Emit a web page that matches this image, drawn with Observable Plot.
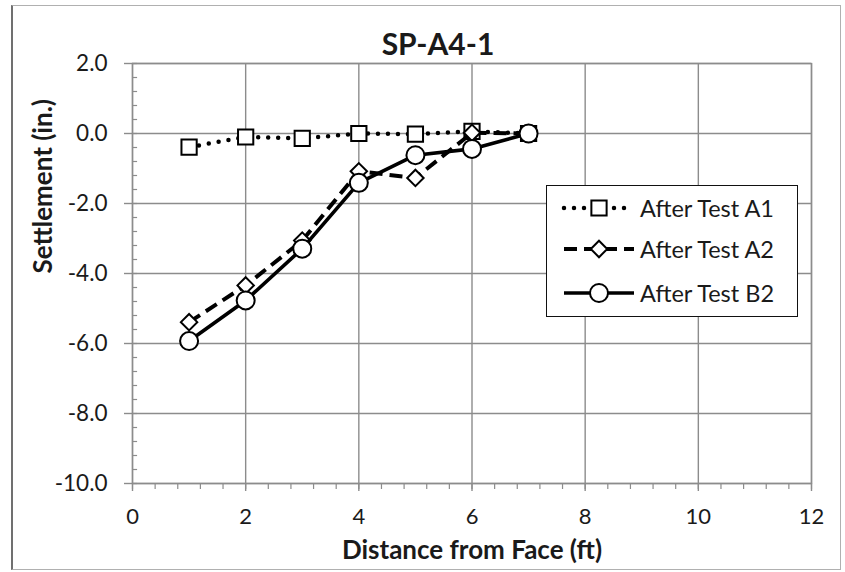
<!DOCTYPE html>
<html><head><meta charset="utf-8">
<script src="https://cdn.jsdelivr.net/npm/d3@7"></script>
<script src="https://cdn.jsdelivr.net/npm/@observablehq/plot@0.6"></script>
<style>
body{margin:0;background:#fff;}
#wrap{position:relative;width:845px;height:572px;overflow:hidden;font-family:Lato,sans-serif;background:#fff;}
#chart{position:absolute;left:0;top:0;}
#border{position:absolute;left:11px;top:5px;width:827px;height:563px;border:1.5px solid #b0b0b0;border-left:2px solid #707070;}
#legend{position:absolute;left:546px;top:185px;width:250px;height:130px;border:1.5px solid #111;background:#fff;}
.row{position:absolute;left:0;height:30px;width:250px;}
.row svg{position:absolute;left:14px;top:0;}
.row span{position:absolute;left:93px;top:0px;line-height:30px;font-size:23.5px;color:#1a1a1a;white-space:nowrap;}
</style></head><body>
<div id="wrap"><div id="border"></div><div id="chart"></div><div id="legend"></div></div>
<script>
const titleText = "SP-A4-1";
const xLabel = "Distance from Face (ft)";
const yLabel = "Settlement (in.)";
const seriesNames = ["After Test A1", "After Test A2", "After Test B2"];
const distance = [1, 2, 3, 4, 5, 6, 7];
const afterA1 = [-0.39, -0.10, -0.14, 0.00, -0.02, 0.06, 0.00];
const afterA2 = [-5.39, -4.34, -3.06, -1.08, -1.27, 0.02, 0.00];
const afterB2 = [-5.93, -4.77, -3.29, -1.41, -0.62, -0.44, 0.00];
const xTicks = [0, 2, 4, 6, 8, 10, 12];
const yTicks = [2, 0, -2, -4, -6, -8, -10];
const xMinor = d3.range(0, 12.001, 0.4);
const yMinor = d3.range(-10, 2.001, 0.4);

const values = [afterA1, afterA2, afterB2];
const styles = [
  {symbol: "square", r: 8.6, dash: "0 10", width: 4.5},
  {symbol: "diamond2", r: 7.4, dash: "13 7", width: 4},
  {symbol: "circle", r: 9, dash: null, width: 3.6}
];
const data = values.map((vals, i) => distance.map((x, j) => ({x, y: vals[j], series: seriesNames[i]})));

const grid = "#8c8c8c";
const ink = "#1a1a1a";
const marks = [
  Plot.ruleX(xTicks, {stroke: grid, strokeWidth: 1.4}),
  Plot.ruleY(yTicks, {stroke: grid, strokeWidth: 1.4}),
  Plot.ruleY(yMinor, {x1: 0, x2: 0.09, stroke: grid, strokeWidth: 1.2}),
  Plot.axisX({ticks: xMinor, text: null, label: null, tickSize: 6, stroke: grid, strokeWidth: 1.2}),
  Plot.axisX({ticks: xTicks, tickSize: 8, tickPadding: 17, stroke: grid, strokeWidth: 1.4, label: null, fontSize: 22, fill: ink}),
  Plot.axisY({ticks: yTicks, tickSize: 8, tickPadding: 17, tickFormat: d => d.toFixed(1), stroke: grid, strokeWidth: 1.4, label: null, fontSize: 22.5, fill: ink}),
  Plot.frame({stroke: grid, strokeWidth: 1.4}),
  Plot.text([titleText], {frameAnchor: "top", dy: -30, dx: -34, fontSize: 30, fontWeight: "bold", fill: ink}),
  Plot.text([xLabel], {frameAnchor: "bottom", dy: 75, fontSize: 26, fontWeight: "bold", fill: ink}),
  Plot.text([yLabel], {frameAnchor: "left", dx: -89, rotate: -90, fontSize: 26, fontWeight: "bold", fill: ink})
];
data.forEach((d, i) => {
  const s = styles[i];
  marks.push(Plot.line(d, {x: "x", y: "y", stroke: "#000", strokeWidth: s.width, strokeDasharray: s.dash, strokeLinecap: s.dash === "0 10" ? "round" : "butt"}));
  marks.push(Plot.dot(d, {x: "x", y: "y", symbol: () => s.symbol, r: s.r, fill: "#fff", stroke: "#000", strokeWidth: 2}));
});

const chart = Plot.plot({
  width: 845, height: 572,
  marginLeft: 132, marginRight: 34, marginTop: 63, marginBottom: 89,
  x: {domain: [0, 12]},
  y: {domain: [-10, 2]},
  symbol: {type: "identity"},
  style: {fontFamily: "Lato, sans-serif", background: "transparent", color: ink},
  marks
});
document.getElementById("chart").appendChild(chart);

// legend
const legend = document.getElementById("legend");
const rowTops = [7, 48, 92];
seriesNames.forEach((name, i) => {
  const s = styles[i];
  const row = document.createElement("div");
  row.className = "row";
  row.style.top = rowTops[i] + "px";
  const svg = d3.create("svg").attr("width", 76).attr("height", 30);
  svg.append("line").attr("x1", 3).attr("x2", 73).attr("y1", 15).attr("y2", 15)
    .attr("stroke", "#000").attr("stroke-width", s.width)
    .attr("stroke-dasharray", s.dash).attr("stroke-linecap", s.dash === "0 10" ? "round" : "butt");
  const sym = {square: d3.symbolSquare, diamond2: d3.symbolDiamond2, circle: d3.symbolCircle}[s.symbol];
  svg.append("path").attr("d", d3.symbol(sym, Math.PI * s.r * s.r)())
    .attr("transform", "translate(38,15)").attr("fill", "#fff").attr("stroke", "#000").attr("stroke-width", 2);
  row.appendChild(svg.node());
  const span = document.createElement("span");
  span.textContent = name;
  row.appendChild(span);
  legend.appendChild(row);
});
</script>
</body></html>
